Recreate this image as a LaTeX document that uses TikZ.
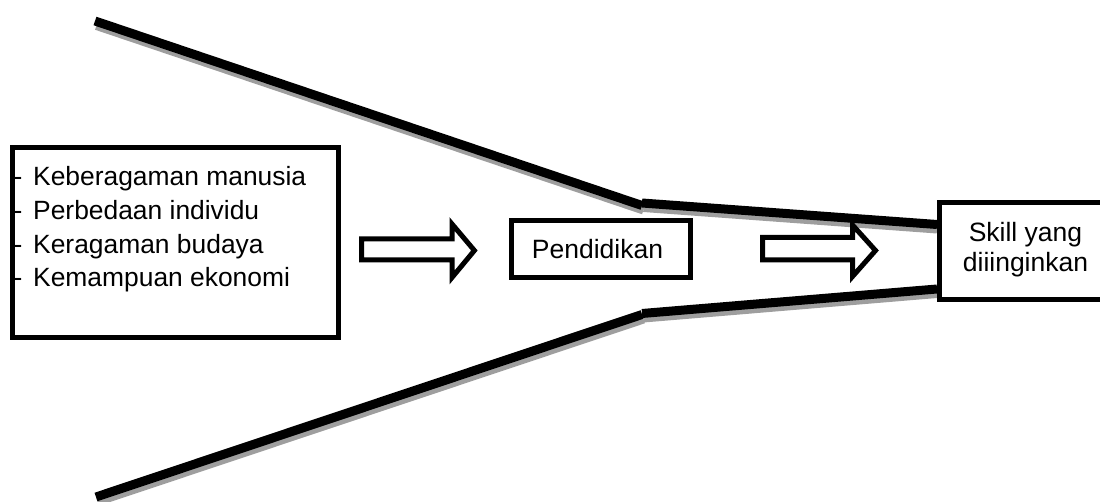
\documentclass[tikz,border=0pt]{standalone}
\usepackage{fontspec}
\setmainfont{Liberation Sans}
\tikzset{
  frame/.style={draw=black, line width=5pt, rectangle, inner sep=0pt, outer sep=0pt},
  funnel/.style={draw=black, line width=9pt, line cap=butt},
  funnelshadow/.style={draw=black!38, line width=9pt, line cap=butt},
  hollowarrow/.style={draw=black, line width=5pt, line join=miter, fill=white},
  listtext/.style={inner sep=0pt, anchor=base west, font=\fontsize{26.4}{30}\selectfont},
  boxtext/.style={inner sep=0pt, anchor=base, font=\fontsize{26.5}{30}\selectfont},
}
\begin{document}
\begin{tikzpicture}[x=1pt, y=-1pt]
\useasboundingbox (0,0) rectangle (1100,502);

% funnel outline points
\coordinate (tA) at (95,21);
\coordinate (tB) at (642,205.5);
\coordinate (tC) at (642,203);
\coordinate (tD) at (937,224.5);
\coordinate (bA) at (96,497);
\coordinate (bB) at (642,314.5);
\coordinate (bC) at (642,313.5);
\coordinate (bD) at (937,289);

% drop shadows of the funnel walls, offset down and to the right
\draw[funnelshadow] ([shift={(1.5,4.5)}]tA) -- ([shift={(1.5,4.5)}]tB);
\draw[funnelshadow] ([shift={(1.5,4.5)}]tC) -- ([shift={(0,4.5)}]tD);
\draw[funnelshadow] ([shift={(1.5,4.5)}]bA) -- ([shift={(1.5,4.5)}]bB);
\draw[funnelshadow] ([shift={(1.5,4.5)}]bC) -- ([shift={(0,4.5)}]bD);
\draw[funnel] (tA) -- (tB);
\draw[funnel] (tC) -- (tD);
\draw[funnel] (bA) -- (bB);
\draw[funnel] (bC) -- (bD);

% input box with its list
\node[frame, minimum width=326pt, minimum height=190pt] (input) at (175.5,242.5) {};
\foreach \i/\txt in {0/Keberagaman manusia, 1/Perbedaan individu, 2/Keragaman budaya, 3/Kemampuan ekonomi}{
  \node[listtext] (dash\i) at (13.5,185.5+33.8*\i) {-};
  \node[listtext] (item\i) at (33,185.5+33.8*\i) {\txt};
}

% process box
\node[frame, minimum width=179.5pt, minimum height=56.5pt] (proc) at (600.75,249.25) {};
\node[boxtext] (proclabel) at (597.5,258.5) {Pendidikan};

% output box
\node[frame, minimum width=163.5pt, minimum height=97pt] (out) at (1021.25,251) {};
\node[boxtext] (outlabel1) at (1025.5,241.5) {Skill yang};
\node[boxtext] (outlabel2) at (1025.5,271.5) {diiinginkan};

% block arrows
\draw[hollowarrow] (361.7,239) -- (452,239) -- (452,224) -- (474.4,250.5)
  -- (452,277.5) -- (452,260) -- (361.7,260) -- cycle;
\draw[hollowarrow] (762.5,237.5) -- (852.5,237.5) -- (852.5,225) -- (875.5,250.5)
  -- (852.5,276.5) -- (852.5,260) -- (762.5,260) -- cycle;
\end{tikzpicture}
\end{document}
